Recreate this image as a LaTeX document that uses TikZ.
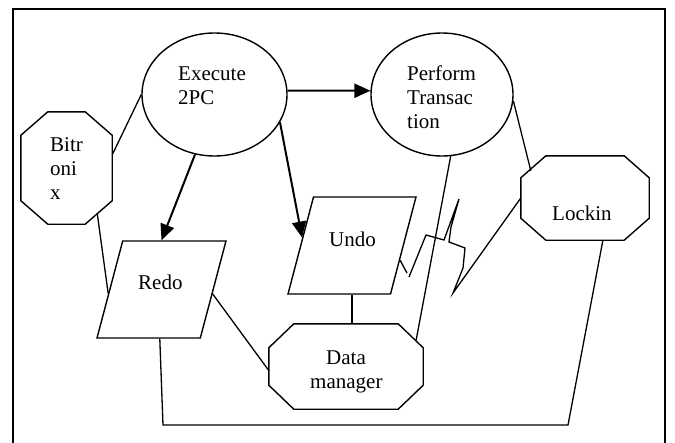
\documentclass[tikz,border=0pt]{standalone}
\usepackage{fontspec}
\setmainfont{Liberation Serif}
\usetikzlibrary{shapes.geometric,arrows.meta,calc}

% octagon outline around a rectangular node: #1 node, #2 horizontal cut, #3 vertical cut
\newcommand{\cutcorners}[3]{%
  \draw[outline]
    ($(#1.north west)+(#2,0)$) -- ($(#1.north east)+(-#2,0)$) --
    ($(#1.north east)+(0,#3)$) -- ($(#1.south east)+(0,-#3)$) --
    ($(#1.south east)+(-#2,0)$) -- ($(#1.south west)+(#2,0)$) --
    ($(#1.south west)+(0,-#3)$) -- ($(#1.north west)+(0,#3)$) -- cycle;}

\begin{document}
\begin{tikzpicture}[x=1pt,y=-1pt,
  conn/.style={line width=1.3pt},
  arr/.style={line width=2pt,-{Triangle[length=16pt,width=14pt]}},
  frame/.style={line width=1.8pt},
  outline/.style={line width=1.4pt,line join=miter},
  oval/.style={ellipse,draw,line width=1.4pt,inner sep=0pt},
  octa/.style={rectangle,draw=none,inner sep=0pt},
  para/.style={trapezium,trapezium left angle=71.7,trapezium right angle=108.3,
    trapezium stretches=true,draw,line width=1.4pt,inner sep=2pt},
  lbl/.style={anchor=base west,inner sep=0pt,font=\fontsize{21}{24}\selectfont}]

\useasboundingbox (0,0) rectangle (675,442);

% outer frame, open at the bottom
\draw[frame] (13,445) -- (13,9) -- (665,9) -- (665,445);

% shapes
\node[oval,minimum width=145pt,minimum height=123pt] (exe) at (214.5,94.5) {};
\node[oval,minimum width=142pt,minimum height=123pt] (per) at (442,94.5) {};
\node[octa,minimum width=91pt,minimum height=112pt] (bit) at (66.5,168) {};
\node[octa,minimum width=154pt,minimum height=85pt] (dm) at (346,366.5) {};
\node[octa,minimum width=128pt,minimum height=84pt] (lock) at (585,198) {};
\cutcorners{bit}{27}{23.5}
\cutcorners{dm}{25}{24}
\cutcorners{lock}{25}{22}
\node[para,minimum width=129pt,minimum height=97pt] (redo) at (161.5,289.5) {};
\node[para,minimum width=128pt,minimum height=97pt] (undo) at (352,245.5) {};

% labels
\node[lbl] (exeA) at (178,80) {Execute};
\node[lbl] (exeB) at (178,104) {2PC};
\node[lbl] (perA) at (407,80) {Perform};
\node[lbl] (perB) at (407,104) {Transac};
\node[lbl] (perC) at (407,128) {tion};
\node[lbl] (bitA) at (50,151) {Bitr};
\node[lbl] (bitB) at (50,175) {oni};
\node[lbl] (bitC) at (50,199.5) {x};
\node[lbl] (redoA) at (138,289) {Redo};
\node[lbl] (undoA) at (329,246) {Undo};
\node[lbl] (dmA) at (326,364) {Data};
\node[lbl] (dmB) at (310,388) {manager};
\node[lbl] (lockA) at (552,220) {Lockin};

% arrows
\draw[arr] (exe.3) -- (per.177);
\draw[arr] (exe.252) -- (redo.north);
\draw[arr] (exe.337) -- (undo.171);

% plain connectors
\draw[conn] (bit.16) -- (exe.west);
\draw[conn] ($(bit.south east)+(-15,-11)$) -- (redo.184);
\draw[conn] (redo.355) -- (dm.183);
\draw[conn] (undo.south) -- (undo.south |- dm.north);
\draw[conn] (per.278) -- ($(dm.north east)+(-7,16)$);
\draw[conn] (per.355) -- ($(lock.north west)+(10,15)$);

\coordinate (b1) at (163,425);
\coordinate (b2) at (568,425);
\draw[conn] (redo.268) -- (b1) -- (b2) -- (lock.293);

% broken zigzag between Undo and Lockin
\coordinate (z1) at (407,273);
\coordinate (z2) at (409,277);
\coordinate (z3) at (426,235);
\coordinate (z4) at (444,240);
\coordinate (z5) at (459,199);
\coordinate (z6) at (451,227);
\coordinate (z7) at (449,242);
\coordinate (z8) at (465,248);
\coordinate (z9) at (463,268);
\coordinate (z10) at (453,293);
\draw[conn] (undo.343) -- (z1);
\draw[conn] (z2) -- (z3) -- (z4) -- (z5) -- (z6) -- (z7) -- (z8) -- (z9) -- (z10) -- (lock.west);

\end{tikzpicture}
\end{document}
